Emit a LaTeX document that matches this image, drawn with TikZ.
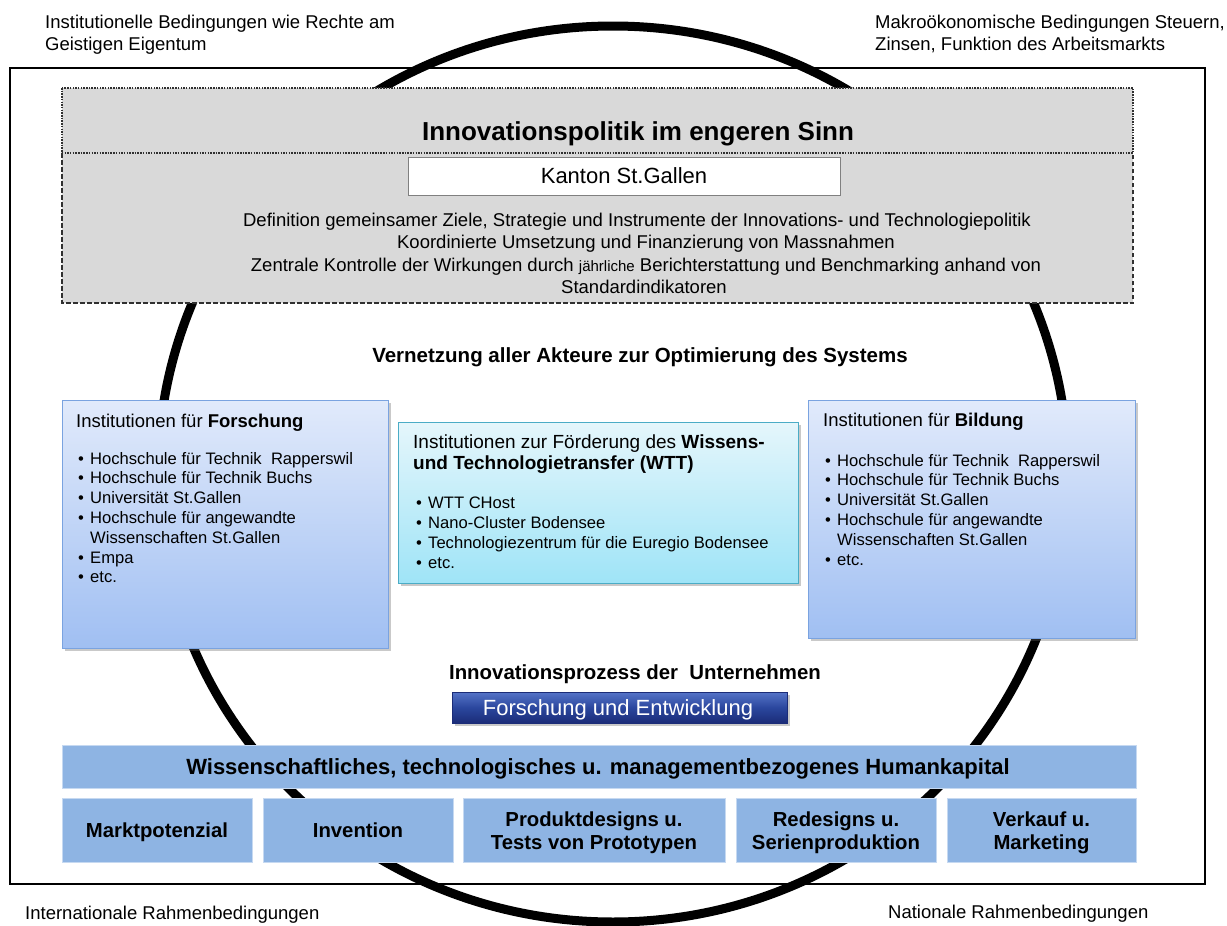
\documentclass[tikz,border=0pt]{standalone}
\usepackage{fontspec}
\setmainfont{Liberation Sans}
\usetikzlibrary{shapes.geometric,shadows}
\definecolor{graybg}{HTML}{D9D9D9}
\definecolor{borderdark}{HTML}{303030}
\definecolor{bluetop}{HTML}{E1EAFB}
\definecolor{bluebot}{HTML}{A0BFF2}
\definecolor{blueedge}{HTML}{7AA3E0}
\definecolor{cyantop}{HTML}{E5F6FB}
\definecolor{cyanbot}{HTML}{9FE4F7}
\definecolor{cyanedge}{HTML}{4BACC6}
\definecolor{procfill}{HTML}{8EB4E3}
\definecolor{procedge}{HTML}{C6D9F1}
\definecolor{navytop}{HTML}{5574C8}
\definecolor{navymid}{HTML}{2B479E}
\definecolor{navybot}{HTML}{1B2C78}
\newcommand\fs[2]{\fontsize{#1}{#2}\selectfont}
\newcommand\bul{\makebox[12pt][l]{\textbullet}}
\newcommand\cont{\hspace*{12pt}}
\begin{document}
\begin{tikzpicture}[x=1pt,y=-1pt]
\tikzset{
  sz/.style 2 args={minimum width=#1pt,minimum height=#2pt,inner sep=0pt,outer sep=0pt},
  corner/.style={anchor=base west,inner sep=0pt,font=\fs{18.5}{21.5}},
  policy/.style={anchor=base,inner sep=0pt,font=\fs{18.5}{22}},
  listtext/.style={anchor=base west,inner sep=0pt,font=\fs{16.6}{19.8}},
  boxtitle/.style={anchor=base west,inner sep=0pt,font=\fs{18.5}{22}},
  softshadow/.style={drop shadow={shadow xshift=2.5pt,shadow yshift=-2.5pt,opacity=0.35,fill=black!60}},
  instbox/.style={draw=blueedge,line width=1pt,top color=bluetop,bottom color=bluebot,softshadow},
  wttbox/.style={draw=cyanedge,line width=1pt,top color=cyantop,bottom color=cyanbot,softshadow},
  procbox/.style={fill=procfill,draw=procedge,line width=0.8pt},
  proctext/.style={font=\bfseries\fs{20.3}{23},align=center,inner sep=0pt},
  bandborder/.style={draw=borderdark,line width=1.6pt,dash pattern=on 1.5pt off 1.2pt},
  lowborder/.style={draw=borderdark,line width=1.6pt,dash pattern=on 4.5pt off 2.5pt},
}
\useasboundingbox (0,0) rectangle (1227,926);

% corner labels
\node[corner] (tl1) at (45,28.6) {Institutionelle Bedingungen wie Rechte am};
\node[corner] (tl2) at (45,50.1) {Geistigen Eigentum};
\node[corner] (tr1) at (875,28.6) {Makroökonomische Bedingungen Steuern,};
\node[corner] (tr2) at (875,50.1) {Zinsen, Funktion des Arbeitsmarkts};
\node[corner] (bl) at (25,919.6) {Internationale Rahmenbedingungen};
\node[corner] (br) at (888,918.6) {Nationale Rahmenbedingungen};

% outer frame and ring
\node[sz={1195}{816},draw=black,line width=1.6pt,fill=white] (outer) at (607.5,476) {};
\node[ellipse,sz={910}{896},draw=black,line width=9pt] (ring) at (613,474) {};

% policy block
\node[sz={1071}{150},fill=graybg] (low) at (597.5,228) {};
\node[sz={1071}{65},fill=graybg] (band) at (597.5,120.5) {};
\draw[lowborder] (low.north west) -- (low.south west) -- (low.south east) -- (low.north east);
\draw[bandborder] (band.north west) rectangle (band.south east);
\node[anchor=base,inner sep=0pt,font=\bfseries\fs{26}{30}] (title) at (638,140.3) {Innovationspolitik im engeren Sinn};
\node[sz={432}{38},fill=white,draw=black!50,line width=1pt] (kanton) at (624,176) {};
\node[anchor=base,inner sep=0pt,font=\fs{22}{26}] (kantontxt) at (624,183.9) {Kanton St.Gallen};
\node[policy] (p1) at (637,226.6) {Definition gemeinsamer Ziele, Strategie und Instrumente der Innovations- und Technologiepolitik};
\node[policy] (p2) at (646,248.6) {Koordinierte Umsetzung und Finanzierung von Massnahmen};
\node[policy] (p3) at (646,271.6) {Zentrale Kontrolle der Wirkungen durch {\fs{15}{18}jährliche} Berichterstattung und Benchmarking anhand von};
\node[policy] (p4) at (644,293.6) {Standardindikatoren};

\node[anchor=base,inner sep=0pt,font=\bfseries\fs{20.5}{24}] (vernetzung) at (640,362.3) {Vernetzung aller Akteure zur Optimierung des Systems};

% institution boxes
\node[sz={326}{248},instbox] (forschung) at (225,524) {};
\node[sz={327}{238},instbox] (bildung) at (971.5,519) {};
\node[sz={400}{161},wttbox] (wtt) at (598,502.5) {};

\node[boxtitle] (forschungT) at (76,427.5) {Institutionen für \textbf{Forschung}};
\foreach \t [count=\i] in {{\bul Hochschule für Technik\ \ Rapperswil},{\bul Hochschule für Technik Buchs},{\bul Universität St.Gallen},{\bul Hochschule für angewandte},{\cont Wissenschaften St.Gallen},{\bul Empa},{\bul etc.}}
  \node[listtext] (fo\i) at (78,{464+19.8*(\i-1)}) {\t};

\node[boxtitle] (bildungT) at (823,426.5) {Institutionen für \textbf{Bildung}};
\foreach \t [count=\i] in {{\bul Hochschule für Technik\ \ Rapperswil},{\bul Hochschule für Technik Buchs},{\bul Universität St.Gallen},{\bul Hochschule für angewandte},{\cont Wissenschaften St.Gallen},{\bul etc.}}
  \node[listtext] (bi\i) at (825,{466+19.8*(\i-1)}) {\t};

\node[boxtitle,font=\fs{19}{22}] (wttT1) at (413,448.5) {Institutionen zur Förderung des \textbf{Wissens-}};
\node[boxtitle,font=\fs{19}{22}] (wttT2) at (413,469.5) {\textbf{und Technologietransfer (WTT)}};
\foreach \t [count=\i] in {{\bul WTT CHost},{\bul Nano-Cluster Bodensee},{\bul Technologiezentrum für die Euregio Bodensee},{\bul etc.}}
  \node[listtext] (wt\i) at (416,{508+20*(\i-1)}) {\t};

% company innovation process
\node[anchor=base,inner sep=0pt,font=\bfseries\fs{20.4}{24}] (prozess) at (635,679.3) {Innovationsprozess der\ \ Unternehmen};
\node[sz={335}{31},top color=navytop,bottom color=navybot,middle color=navymid,draw=navybot,line width=0.8pt,softshadow] (fue) at (619.5,707.5) {};
\node[anchor=base,inner sep=0pt,font=\fs{22}{26},text=white] (fuetxt) at (618,715.9) {Forschung und Entwicklung};

\node[sz={1074}{43},procbox] (human) at (599,766.5) {};
\node[anchor=base,inner sep=0pt,font=\bfseries\fs{22}{26}] (humantxt) at (598,774.9) {Wissenschaftliches, technologisches u. managementbezogenes Humankapital};

\node[sz={190}{64},procbox] (markt) at (157,830) {};
\node[sz={190}{64},procbox] (invention) at (358,830) {};
\node[sz={262}{64},procbox] (produkt) at (594,830) {};
\node[sz={200}{64},procbox] (redesign) at (836,830) {};
\node[sz={189}{64},procbox] (verkauf) at (1041.5,830) {};
\node[proctext,anchor=base] (marktT) at (157,837.3) {Marktpotenzial};
\node[proctext,anchor=base] (inventionT) at (358,837.3) {Invention};
\node[proctext] (produktT) at (594,833) {Produktdesigns u.\\Tests von Prototypen};
\node[proctext] (redesignT) at (836,833) {Redesigns u.\\Serienproduktion};
\node[proctext] (verkaufT) at (1041.5,833) {Verkauf u.\\Marketing};
\end{tikzpicture}
\end{document}
